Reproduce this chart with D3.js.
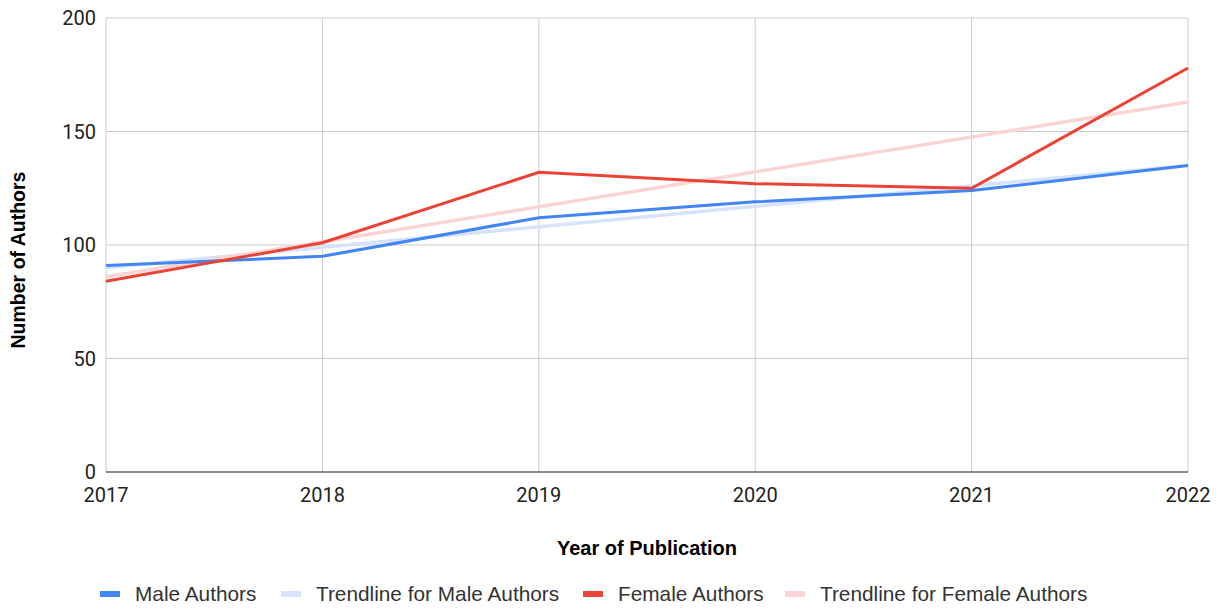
<!DOCTYPE html>
<html>
<head>
  <meta charset="utf-8">
  <script src="https://cdn.jsdelivr.net/npm/d3@7"></script>
  <style>
    body { margin: 0; background: #fff; }
    text { fill: #222; }
  </style>
</head>
<body>
<script>
  var years = [2017, 2018, 2019, 2020, 2021, 2022];
  var male = [91, 95, 112, 119, 124, 135];
  var female = [84, 101, 132, 127, 125, 178];
  // trendline endpoints (2017, 2022)
  var maleTrend = [90, 135];
  var femaleTrend = [86, 163];
  var yTicks = [0, 50, 100, 150, 200];
  var legendNames = ["Male Authors", "Trendline for Male Authors", "Female Authors", "Trendline for Female Authors"];
  var legendColors = ["#4285f4", "#d5e3fc", "#ea4335", "#fad5d3"];

  var w = 1223, h = 610;
  var m = {left: 106, right: 35, top: 18, bottom: 138};
  var tickFont = "Roboto, Arial, sans-serif";
  var labelFont = "'Liberation Sans', Arial, sans-serif";

  var svg = d3.select("body").append("svg").attr("width", w).attr("height", h);

  var x = d3.scaleLinear().domain([2017, 2022]).range([m.left, w - m.right]);
  var y = d3.scaleLinear().domain([0, 200]).range([h - m.bottom, m.top]);

  // gridlines
  svg.append("g").selectAll("line.h").data(yTicks).enter().append("line")
    .attr("x1", m.left).attr("x2", w - m.right)
    .attr("y1", function(d){ return y(d); }).attr("y2", function(d){ return y(d); })
    .attr("stroke", "#cccccc").attr("stroke-width", 1);
  svg.append("g").selectAll("line.v").data(years).enter().append("line")
    .attr("x1", function(d){ return x(d); }).attr("x2", function(d){ return x(d); })
    .attr("y1", m.top).attr("y2", h - m.bottom)
    .attr("stroke", "#cccccc").attr("stroke-width", 1);

  // baseline
  svg.append("line").attr("x1", m.left).attr("x2", w - m.right)
    .attr("y1", y(0)).attr("y2", y(0)).attr("stroke", "#333").attr("stroke-width", 1.2);

  // axis labels
  svg.append("g").selectAll("text").data(yTicks).enter().append("text")
    .attr("x", m.left - 10).attr("y", function(d){ return y(d) + 7; })
    .attr("text-anchor", "end").style("font-family", tickFont).style("font-size", "20px")
    .text(function(d){ return d; });
  svg.append("g").selectAll("text").data(years).enter().append("text")
    .attr("x", function(d){ return x(d); }).attr("y", y(0) + 30)
    .attr("text-anchor", "middle").style("font-family", tickFont).style("font-size", "20px")
    .text(function(d){ return d; });

  svg.append("text").attr("x", (m.left + w - m.right) / 2).attr("y", 555)
    .attr("text-anchor", "middle").style("font-family", labelFont).style("font-size", "20px")
    .style("font-weight", "bold").style("fill", "#000")
    .text("Year of Publication");
  svg.append("text").attr("transform", "translate(25,260) rotate(-90)")
    .attr("text-anchor", "middle").style("font-family", labelFont).style("font-size", "19.5px")
    .style("font-weight", "bold").style("fill", "#000")
    .text("Number of Authors");

  var line = d3.line().x(function(d, i){ return x(years[i]); }).y(function(d){ return y(d); });
  var trendX = [years[0], years[years.length - 1]];
  var tline = d3.line().x(function(d, i){ return x(trendX[i]); }).y(function(d){ return y(d); });

  svg.append("path").datum(maleTrend).attr("d", tline).attr("fill", "none")
    .attr("stroke", legendColors[1]).attr("stroke-width", 3.5);
  svg.append("path").datum(femaleTrend).attr("d", tline).attr("fill", "none")
    .attr("stroke", legendColors[3]).attr("stroke-width", 3.5);
  svg.append("path").datum(male).attr("d", line).attr("fill", "none")
    .attr("stroke", legendColors[0]).attr("stroke-width", 3);
  svg.append("path").datum(female).attr("d", line).attr("fill", "none")
    .attr("stroke", legendColors[2]).attr("stroke-width", 3);

  // legend
  var legendX = [100, 281, 583, 785];
  var lg = svg.append("g").selectAll("g").data(legendNames).enter().append("g")
    .attr("transform", function(d, i){ return "translate(" + legendX[i] + ",594)"; });
  lg.append("rect").attr("x", 0).attr("y", -3).attr("width", 20).attr("height", 6)
    .attr("fill", function(d, i){ return legendColors[i]; });
  lg.append("text").attr("x", 35).attr("y", 7)
    .style("font-family", labelFont).style("font-size", "20.8px").style("fill", "#333")
    .text(function(d){ return d; });
</script>
</body>
</html>
